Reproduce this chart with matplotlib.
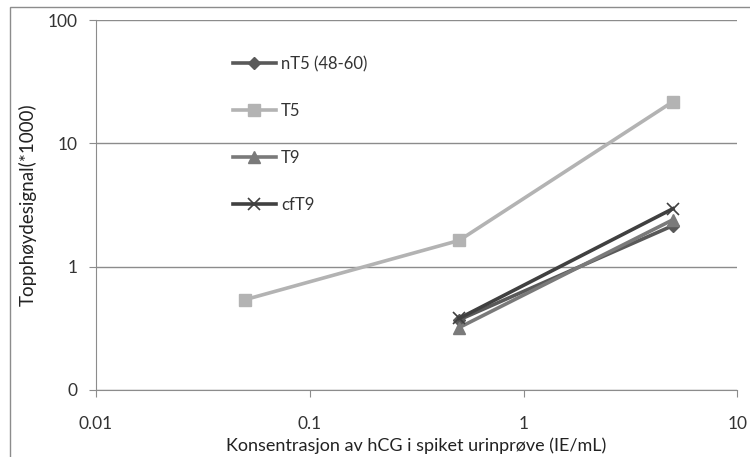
import matplotlib
matplotlib.use("Agg")
import matplotlib.pyplot as plt
from matplotlib.patches import Rectangle

plt.rcParams["font.family"] = ["Lato", "DejaVu Sans"]

# data
conc_t5 = [0.05, 0.5, 5]
t5 = [0.54, 1.63, 21.8]
conc = [0.5, 5]
nt5 = [0.37, 2.15]
t9 = [0.32, 2.4]
cft9 = [0.38, 2.95]

x_ticks = [0.01, 0.1, 1, 10]
x_labels = ["0.01", "0.1", "1", "10"]
y_ticks = [0.1, 1, 10, 100]
y_labels = ["0", "1", "10", "100"]

fig = plt.figure(figsize=(7.5, 4.57), dpi=100)
ax = fig.add_axes([0.128, 0.147, 0.855, 0.809])

ax.plot(conc, nt5, color="#595959", lw=2.6, marker="D", ms=6, label="nT5 (48-60)", zorder=3)
ax.plot(conc_t5, t5, color="#b3b3b3", lw=2.6, marker="s", ms=8, label="T5", zorder=2)
ax.plot(conc, t9, color="#7a7a7a", lw=2.6, marker="^", ms=8, label="T9", zorder=3)
ax.plot(conc, cft9, color="#404040", lw=2.6, marker="x", ms=9, mew=1.2, label="cfT9", zorder=4)

ax.set_xscale("log")
ax.set_yscale("log")
ax.set_xlim(0.01, 10)
ax.set_ylim(0.1, 100)
ax.set_xticks(x_ticks)
ax.set_xticklabels(x_labels)
ax.set_yticks(y_ticks)
ax.set_yticklabels(y_labels)
ax.minorticks_off()

ax.yaxis.grid(True, color="#8c8c8c", lw=1.0)
ax.set_axisbelow(True)
for s in ("top", "right"):
    ax.spines[s].set_visible(False)
for s in ("left", "bottom"):
    ax.spines[s].set_color("#8c8c8c")
ax.tick_params(axis="both", colors="#8c8c8c", labelcolor="#333333",
               labelsize=12.5, length=5, direction="out")
ax.tick_params(axis="x", pad=14)
ax.tick_params(axis="y", pad=8)

ax.set_xlabel("Konsentrasjon av hCG i spiket urinprøve (IE/mL)", fontsize=13,
              color="#222222")
ax.xaxis.set_label_coords(0.5, -0.128)
ax.set_ylabel("Topphøydesignal(*1000)", fontsize=13.5, color="#222222", labelpad=8)

leg = ax.legend(loc="upper left", bbox_to_anchor=(0.2, 0.925), frameon=False,
                fontsize=12, labelspacing=1.85, handlelength=2.6,
                handletextpad=0.3, borderpad=0)
for t in leg.get_texts():
    t.set_color("#333333")

fig.patches.append(Rectangle((10 / 750, -0.02), 1.0, 1 - 7 / 457 + 0.02,
                             transform=fig.transFigure, fill=False,
                             edgecolor="#8c8c8c", lw=1.0))

fig.savefig("out.png", dpi=100, facecolor="white")
